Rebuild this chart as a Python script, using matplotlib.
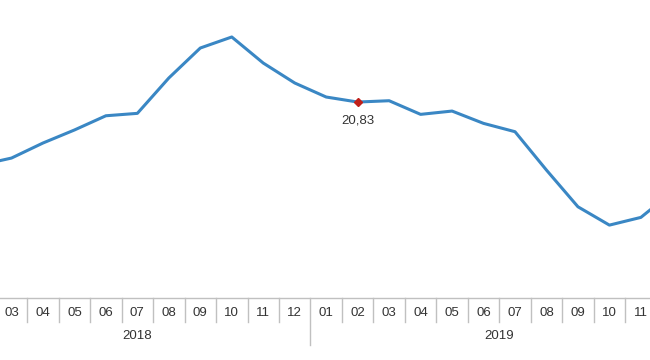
import matplotlib
matplotlib.use("Agg")
import matplotlib.pyplot as plt
import numpy as np

plt.rcParams['font.family'] = ['Liberation Sans', 'DejaVu Sans']

# monthly series, 2018-02 .. 2019-12
months = ["02", "03", "04", "05", "06", "07", "08", "09", "10", "11", "12",
          "01", "02", "03", "04", "05", "06", "07", "08", "09", "10", "11", "12"]
years = ["2018"] * 11 + ["2019"] * 12
values = [14.54, 15.24, 16.74, 18.04, 19.46, 19.70, 23.23, 26.22, 27.32, 24.72, 22.73,
          21.33, 20.83, 20.96, 19.60, 19.93, 18.70, 17.87, 14.04, 10.38, 8.55, 9.32, 11.85]
labelled = [0, 12]  # points carrying a value label

line_color = "#3a87c4"
marker_color = "#c0201a"
axis_color = "#c0c0c0"
text_color = "#333333"
font_size = 9.5


def main():
    fig = plt.figure(figsize=(6.5, 3.6), dpi=100)
    ax = fig.add_axes([0.0, 0.172, 1.0, 0.828])

    x = np.arange(len(values))
    ax.plot(x, values, color=line_color, linewidth=2.2, solid_joinstyle="round", zorder=2)

    for i in labelled:
        ax.plot(x[i], values[i], marker="D", markersize=4.5, color=marker_color, zorder=3)
        ax.annotate("{:.2f}".format(values[i]).replace(".", ","), (x[i], values[i]),
                    xytext=(0, -18), textcoords="offset pixels",
                    ha="center", va="center", fontsize=font_size, color=text_color)

    ax.set_xlim(0.635, 21.29)
    ax.set_ylim(1.27, 31.01)
    ax.axis("off")

    trans = ax.get_xaxis_transform()
    # axis line
    ax.plot([-1, len(values)], [0, 0], color=axis_color, linewidth=1, transform=trans, clip_on=False)

    # month cells
    for i, m in enumerate(months):
        ax.text(i, -0.05, m, ha="center", va="center", fontsize=font_size, color=text_color,
                transform=trans, clip_on=False)
        if i > 0:
            bottom = -0.158 if years[i] != years[i - 1] else -0.0805
            ax.plot([i - 0.5, i - 0.5], [0, bottom], color=axis_color, linewidth=1,
                    transform=trans, clip_on=False)

    # year groups
    for year in sorted(set(years)):
        idx = [i for i, y in enumerate(years) if y == year]
        centre = (idx[0] + idx[-1]) / 2.0
        ax.text(centre, -0.128, year, ha="center", va="center", fontsize=font_size, color=text_color,
                transform=trans)

    fig.savefig("out.png", dpi=100)


if __name__ == "__main__":
    main()
